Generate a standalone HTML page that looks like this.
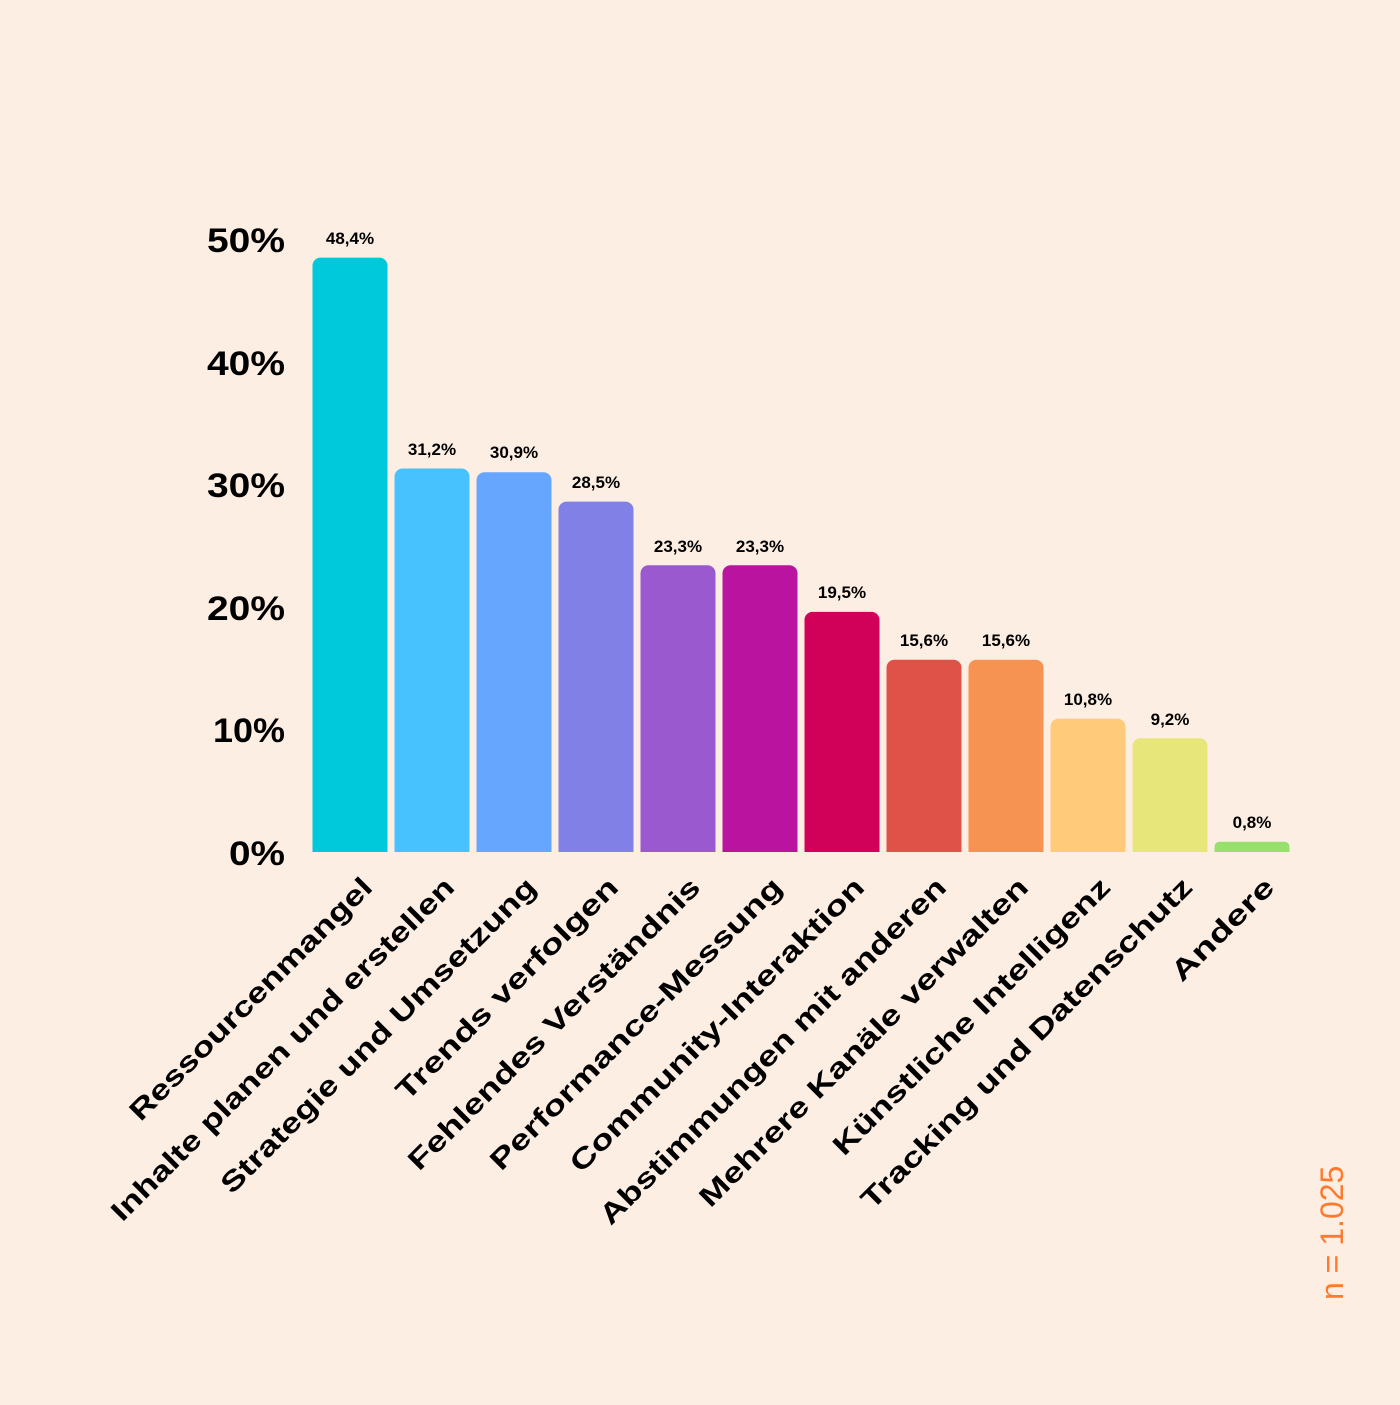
<!DOCTYPE html>
<html><head><meta charset="utf-8"><style>html,body{margin:0;padding:0;background:#FDEEE3}</style></head><body>
<svg width="1400" height="1400" viewBox="0 0 1400 1400" xmlns="http://www.w3.org/2000/svg" font-family="Liberation Sans, sans-serif">
<rect width="1400" height="1400" fill="#FDEEE3"/>
<g font-size="34" font-weight="bold" text-anchor="end" fill="#000">
<text x="285" y="252" textLength="78" lengthAdjust="spacingAndGlyphs">50%</text>
<text x="285" y="375" textLength="78" lengthAdjust="spacingAndGlyphs">40%</text>
<text x="285" y="497" textLength="78" lengthAdjust="spacingAndGlyphs">30%</text>
<text x="285" y="620" textLength="78" lengthAdjust="spacingAndGlyphs">20%</text>
<text x="285" y="742" textLength="72" lengthAdjust="spacingAndGlyphs">10%</text>
<text x="285" y="865" textLength="56" lengthAdjust="spacingAndGlyphs">0%</text>
</g>
<g>
<rect x="312.5" y="257.6" width="75" height="603" rx="8" fill="#00C9DC"/>
<rect x="394.5" y="468.5" width="75" height="392" rx="8" fill="#48C2FF"/>
<rect x="476.5" y="472.2" width="75" height="388" rx="8" fill="#66A6FF"/>
<rect x="558.5" y="501.6" width="75" height="359" rx="8" fill="#8080E6"/>
<rect x="640.5" y="565.3" width="75" height="295" rx="8" fill="#9B59CF"/>
<rect x="722.5" y="565.3" width="75" height="295" rx="8" fill="#BA139F"/>
<rect x="804.5" y="611.9" width="75" height="249" rx="8" fill="#D10058"/>
<rect x="886.5" y="659.7" width="75" height="201" rx="8" fill="#DE5248"/>
<rect x="968.5" y="659.7" width="75" height="201" rx="8" fill="#F69352"/>
<rect x="1050.5" y="718.6" width="75" height="142" rx="8" fill="#FFCB7A"/>
<rect x="1132.5" y="738.2" width="75" height="122" rx="8" fill="#E6E67A"/>
<rect x="1214.5" y="841.7" width="75" height="18" rx="5" fill="#98E06C"/>
<rect x="300" y="852" width="1000" height="10" fill="#FDEEE3"/>
</g>
<g font-size="17" font-weight="bold" text-anchor="middle" fill="#000">
<text x="350" y="244">48,4%</text>
<text x="432" y="455">31,2%</text>
<text x="514" y="458">30,9%</text>
<text x="596" y="488">28,5%</text>
<text x="678" y="552">23,3%</text>
<text x="760" y="552">23,3%</text>
<text x="842" y="598">19,5%</text>
<text x="924" y="646">15,6%</text>
<text x="1006" y="646">15,6%</text>
<text x="1088" y="705">10,8%</text>
<text x="1170" y="725">9,2%</text>
<text x="1252" y="828">0,8%</text>
</g>
<g font-size="28" font-weight="bold" text-anchor="end" fill="#000">
<text transform="translate(374,889) rotate(-45)" textLength="330" lengthAdjust="spacingAndGlyphs">Ressourcenmangel</text>
<text transform="translate(456,889) rotate(-45)" textLength="472" lengthAdjust="spacingAndGlyphs">Inhalte planen und erstellen</text>
<text transform="translate(538,889) rotate(-45)" textLength="433" lengthAdjust="spacingAndGlyphs">Strategie und Umsetzung</text>
<text transform="translate(620,889) rotate(-45)" textLength="301" lengthAdjust="spacingAndGlyphs">Trends verfolgen</text>
<text transform="translate(702,889) rotate(-45)" textLength="400" lengthAdjust="spacingAndGlyphs">Fehlendes Verständnis</text>
<text transform="translate(784,889) rotate(-45)" textLength="400" lengthAdjust="spacingAndGlyphs">Performance-Messung</text>
<text transform="translate(866,889) rotate(-45)" textLength="403" lengthAdjust="spacingAndGlyphs">Community-Interaktion</text>
<text transform="translate(948,889) rotate(-45)" textLength="477" lengthAdjust="spacingAndGlyphs">Abstimmungen mit anderen</text>
<text transform="translate(1030,889) rotate(-45)" textLength="452" lengthAdjust="spacingAndGlyphs">Mehrere Kanäle verwalten</text>
<text transform="translate(1112,889) rotate(-45)" textLength="379" lengthAdjust="spacingAndGlyphs">Künstliche Intelligenz</text>
<text transform="translate(1194,889) rotate(-45)" textLength="455" lengthAdjust="spacingAndGlyphs">Tracking und Datenschutz</text>
<text transform="translate(1276,889) rotate(-45)" textLength="133" lengthAdjust="spacingAndGlyphs">Andere</text>
</g>
<text transform="translate(1343,1300) rotate(-90)" font-size="32" fill="#FF7A2C">n = 1.025</text>
</svg>
</body></html>
